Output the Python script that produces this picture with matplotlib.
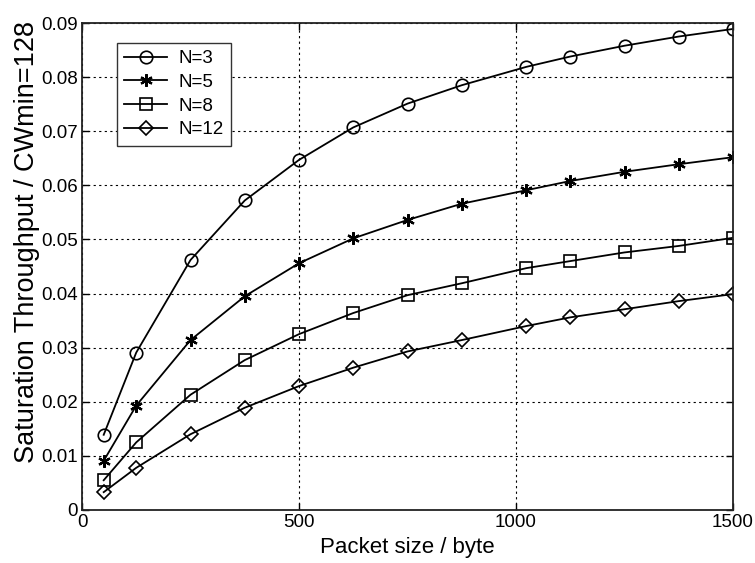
import matplotlib
matplotlib.use("Agg")
import matplotlib.pyplot as plt

plt.rcParams['font.family'] = ['Liberation Sans', 'DejaVu Sans']

packet_size = [50, 125, 250, 375, 500, 625, 750, 875, 1024, 1125, 1250, 1375, 1500]
thr_n3 = [0.0139, 0.0291, 0.0462, 0.0572, 0.0647, 0.0707, 0.0751, 0.0785, 0.0819, 0.0838, 0.0858, 0.0875, 0.0889]
thr_n5 = [0.0091, 0.0193, 0.0314, 0.0395, 0.0456, 0.0502, 0.0536, 0.0566, 0.0591, 0.0608, 0.0625, 0.0639, 0.0652]
thr_n8 = [0.0055, 0.0125, 0.0213, 0.0277, 0.0325, 0.0364, 0.0397, 0.0419, 0.0447, 0.0460, 0.0476, 0.0488, 0.0503]
thr_n12 = [0.0033, 0.0078, 0.0140, 0.0189, 0.0229, 0.0263, 0.0293, 0.0314, 0.0340, 0.0356, 0.0371, 0.0386, 0.0399]
labels = ['N=3', 'N=5', 'N=8', 'N=12']
x_ticks = [0, 500, 1000, 1500]
y_ticks = [0, 0.01, 0.02, 0.03, 0.04, 0.05, 0.06, 0.07, 0.08, 0.09]
y_ticklabels = ['0', '0.01', '0.02', '0.03', '0.04', '0.05', '0.06', '0.07', '0.08', '0.09']

fig = plt.figure(figsize=(7.55, 5.63), dpi=100)
ax = fig.add_axes([82/755, 1-510/563, 651/755, 487/563])

series = [thr_n3, thr_n5, thr_n8, thr_n12]
markers = ['o', (6, 2, 0), 's', 'D']
msizes = [9, 9, 8, 7.5]
mews = [1.2, 1.6, 1.2, 1.2]
for ys, m, ms, mew, lab in zip(series, markers, msizes, mews, labels):
    ax.plot(packet_size, ys, color='black', lw=1.3, marker=m, markersize=ms,
            markerfacecolor='none', markeredgecolor='black',
            markeredgewidth=mew, label=lab)

ax.set_xlim(0, 1500)
ax.set_ylim(0, 0.09)
ax.set_xticks(x_ticks)
ax.set_xticklabels([str(t) for t in x_ticks])
ax.set_yticks(y_ticks)
ax.set_yticklabels(y_ticklabels)
ax.tick_params(direction='in', length=5, width=1, top=True, right=True,
               labelsize=13.5, pad=3, colors='black')
ax.grid(True, linestyle=(0, (2, 3)), color='black', linewidth=0.8)
for s in ax.spines.values():
    s.set_linewidth(1.3)
    s.set_color('#222222')

ax.set_xlabel('Packet size / byte', fontsize=16, labelpad=4)
ax.set_ylabel('Saturation Throughput / CWmin=128', fontsize=19.5)
ax.yaxis.set_label_coords(-0.0647, 0.551)

leg = ax.legend(loc='upper left', bbox_to_anchor=(0.0533, 0.9595), borderaxespad=0,
                fontsize=13.5, fancybox=False, framealpha=1, edgecolor='#333333',
                handlelength=2.3, labelspacing=0.35, borderpad=0.4, handletextpad=0.6)
leg.get_frame().set_linewidth(1.0)

fig.savefig('out.png', dpi=100)
